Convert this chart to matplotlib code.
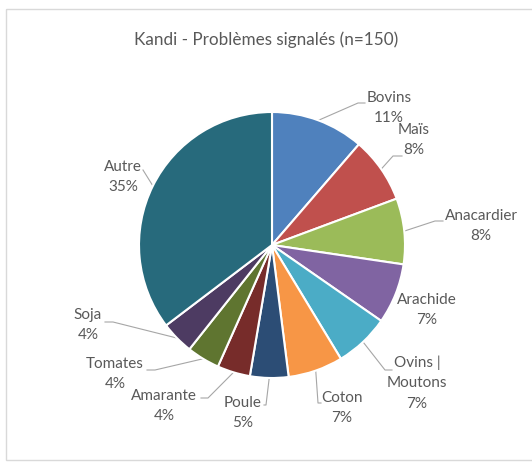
import numpy as np
import matplotlib
matplotlib.use("Agg")
import matplotlib.pyplot as plt
from matplotlib.patches import Rectangle

# counts out of n=150
categories = ["Bovins", "Maïs", "Anacardier", "Arachide", "Ovins |\nMoutons", "Coton",
              "Poule", "Amarante", "Tomates", "Soja", "Autre"]
counts = [17, 12, 12, 11, 10, 10, 7, 6, 6, 6, 53]
colors = ["#4F81BD", "#C0504D", "#9BBB59", "#8064A2", "#4BACC6", "#F79646",
          "#2C4D75", "#772C2A", "#5F7530", "#4D3B62", "#276A7C"]

# label layout in pixel coords: text centre, leader elbow, leader end (None = no leader)
label_pos = [(389, 108), (414, 140), (481, 226), (427, 310), (417, 383), (342, 408),
             (243, 413), (164, 406), (115, 374), (88, 325), (123, 177)]
leader_pts = [((358, 103), (365, 103)), ((393, 156), (402, 156)), ((435, 221), (443, 221)),
              None, ((385, 370), (392, 370)), ((318, 403), (321, 403)),
              ((266, 405), (264, 405)), ((208, 398), (201, 398)), ((155, 370), (147, 370)),
              ((113, 322), (105, 322)), ((143, 170), (143, 170))]

W, H = 532, 462
textcol = "#595959"
plt.rcParams["font.family"] = ["Lato", "DejaVu Sans"]

fig = plt.figure(figsize=(W / 100, H / 100), dpi=100)
ax = fig.add_axes([0, 0, 1, 1])

cx, cy, r = 272, 245, 133
wedges, _ = ax.pie(counts, colors=colors, startangle=270, counterclock=True,
                   center=(cx, cy), radius=r, frame=True,
                   wedgeprops=dict(edgecolor="white", linewidth=1.5))
ax.set_xlim(0, W)
ax.set_ylim(H, 0)
ax.set_aspect("equal")
ax.axis("off")

total = float(sum(counts))
for w, name, n, pos, lead in zip(wedges, categories, counts, label_pos, leader_pts):
    pct = "%d%%" % round(100 * n / total)
    ax.text(pos[0], pos[1], name + "\n" + pct, ha="center", va="center",
            fontsize=11, color=textcol, linespacing=1.6)
    if lead is None:
        continue
    ang = np.deg2rad((w.theta1 + w.theta2) / 2)
    sx, sy = cx + r * np.cos(ang), cy + r * np.sin(ang)
    xs = [sx, lead[0][0], lead[1][0]]
    ys = [sy, lead[0][1], lead[1][1]]
    ax.plot(xs, ys, color="#A6A6A6", lw=0.8, zorder=0.5)

fig.text(266 / W, 1 - 40 / H, "Kandi - Problèmes signalés (n=150)", ha="center", va="center",
         fontsize=12.3, color=textcol)

ax.add_patch(Rectangle((5.5, 8.5), 600, 451.5, fill=False, edgecolor="#D9D9D9", lw=1, clip_on=False))

fig.savefig("out.png", dpi=100)
